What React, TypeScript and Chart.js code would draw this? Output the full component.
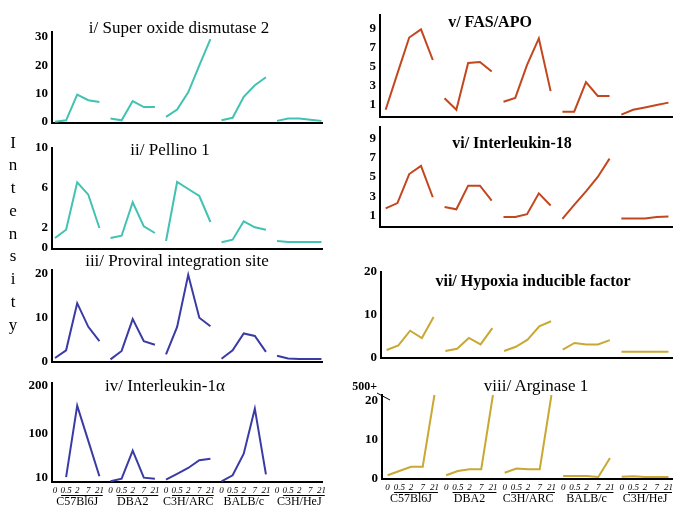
import React, { useEffect, useRef } from 'react';
import { Chart, registerables } from 'chart.js';
Chart.register(...registerables);

// ---------- data ----------
const strains = ['C57Bl6J', 'DBA2', 'C3H/ARC', 'BALB/c', 'C3H/HeJ'];
const days = ['0', '0.5', '2', '7', '21'];

// values per strain (5 strains x 5 days)
const sod2 = [0.1, 0.6, 9.7, 7.7, 7.1, 1.2, 0.6, 7.4, 5.3, 5.3, 1.8, 4.4, 10.5, 20, 29.3, 0.6, 1.5, 8.9, 13, 15.8, 0.4, 1.2, 1.2, 0.8, 0.4];
const pellino1 = [1.0, 1.83, 6.57, 5.33, 2.0, 1.0, 1.23, 4.57, 2.17, 1.5, 0.7, 6.6, 5.9, 5.2, 2.6, 0.57, 0.83, 2.67, 2.07, 1.83, 0.7, 0.6, 0.6, 0.6, 0.6];
const proviral = [0.9, 2.65, 13.3, 7.95, 4.7, 0.6, 2.5, 9.7, 4.7, 3.9, 1.75, 7.95, 19.7, 10, 8.1, 0.75, 2.65, 6.45, 5.9, 2.3, 1.4, 0.8, 0.7, 0.7, 0.7];
const il1a = [null, 10, 158, 85, 12, 1.4, 6.9, 65, 9, 6.9, 4.8, 17, 29, 45, 48, 1.4, 13.8, 58.6, 151.7, 15.9, null, null, null, null, null];
const fasApo = [0.5, 4.3, 8.05, 8.9, 5.7, 1.7, 0.5, 5.4, 5.5, 4.5, 1.35, 1.75, 5.2, 7.95, 2.45, 0.3, 0.3, 3.4, 1.95, 1.95, 0.0, 0.5, 0.75, 1.0, 1.25];
const il18 = [1.75, 2.3, 5.3, 6.15, 2.9, 1.9, 1.65, 4.1, 4.1, 2.55, 0.85, 0.85, 1.15, 3.3, 2.05, 0.65, 2.1, 3.5, 5.0, 6.9, 0.7, 0.7, 0.7, 0.85, 0.9];
const hif = [1.8, 2.85, 6.3, 4.6, 9.5, 1.55, 2.1, 4.6, 3.1, 6.9, 1.55, 2.55, 4.2, 7.3, 8.5, 1.9, 3.45, 3.1, 3.1, 4.1, 1.4, 1.4, 1.4, 1.4, 1.4];
// day-21 values of the first three strains run off the broken axis ("500+")
const arg1 = [0.85, 1.95, 3.05, 3.05, 21.5, 0.85, 1.95, 2.4, 2.4, 21.5, 1.5, 2.6, 2.4, 2.4, 21.5, 0.7, 0.7, 0.7, 0.4, 5.3, 0.45, 0.6, 0.4, 0.4, 0.4];

const sodTicks = [0, 10, 20, 30];
const pellinoTicks = [0, 2, 6, 10];
const proviralTicks = [0, 10, 20];
const il1aTicks = [10, 100, 200];
const oddTicks = [1, 3, 5, 7, 9];
const hifTicks = [0, 10, 20];
const argTicks = [0, 10, 20];
const yLabel = 'Intensity';

// ---------- layout / style ----------
const SERIF = '"Liberation Serif", "Times New Roman", Times, serif';
const TEAL = '#42c2b3';
const BLUE = '#3b3ba6';
const RUST = '#c2471f';
const GOLD = '#c9a833';

type Spec = {
  values: (number | null)[];
  color: string;
  area: [number, number, number, number];
  xMin: number; xMax: number; yMin: number; yMax: number;
  yTicks: number[];
  xLabels?: boolean;
  breakLabel?: string;
  title: string;
  titleX: number; titleY: number; titleBold?: boolean;
};

const LX = [-0.27, 24.05];
const RX = [-0.48, 24.3];

const panels: Spec[] = [
  { values: sod2, color: TEAL, area: [52, 32, 322, 123], xMin: LX[0], xMax: LX[1], yMin: -0.35, yMax: 31.8, yTicks: sodTicks, title: 'i/ Super oxide dismutase 2', titleX: 179, titleY: 27 },
  { values: pellino1, color: TEAL, area: [52, 148, 322, 249], xMin: LX[0], xMax: LX[1], yMin: -0.1, yMax: 10, yTicks: pellinoTicks, title: 'ii/ Pellino 1', titleX: 170, titleY: 149 },
  { values: proviral, color: BLUE, area: [52, 270, 322, 362], xMin: LX[0], xMax: LX[1], yMin: 0, yMax: 20.8, yTicks: proviralTicks, title: 'iii/ Proviral integration site', titleX: 177, titleY: 260 },
  { values: il1a, color: BLUE, area: [52, 383, 322, 482], xMin: LX[0], xMax: LX[1], yMin: 0, yMax: 204.8, yTicks: il1aTicks, xLabels: true, title: 'iv/ Interleukin-1\u03b1', titleX: 165, titleY: 385 },
  { values: fasApo, color: RUST, area: [380, 15, 672, 117], xMin: RX[0], xMax: RX[1], yMin: -0.25, yMax: 10.4, yTicks: oddTicks, title: 'v/ FAS/APO', titleX: 490, titleY: 22, titleBold: true },
  { values: il18, color: RUST, area: [380, 127, 672, 227], xMin: RX[0], xMax: RX[1], yMin: -0.18, yMax: 10.17, yTicks: oddTicks, title: 'vi/ Interleukin-18', titleX: 512, titleY: 143, titleBold: true },
  { values: hif, color: GOLD, area: [381, 272, 672, 358], xMin: RX[0], xMax: RX[1], yMin: -0.07, yMax: 20, yTicks: hifTicks, title: 'vii/ Hypoxia inducible factor', titleX: 533, titleY: 281, titleBold: true },
  { values: arg1, color: GOLD, area: [382, 395, 672, 479], xMin: RX[0], xMax: RX[1], yMin: -0.1, yMax: 21.5, yTicks: argTicks, xLabels: true, breakLabel: '500+', title: 'viii/ Arginase 1', titleX: 536, titleY: 385 },
];

const groupLabels = {
  id: 'groupLabels',
  afterDraw(chart: any, _args: any, opts: any) {
    const ctx = chart.ctx;
    const area = chart.chartArea;
    if (opts && opts.show) {
      const x = chart.scales.x;
      ctx.save();
      ctx.strokeStyle = '#000';
      ctx.lineWidth = 1;
      ctx.fillStyle = '#000';
      ctx.font = `12px ${SERIF}`;
      ctx.textAlign = 'center';
      ctx.textBaseline = 'middle';
      strains.forEach((name, g) => {
        const a = x.getPixelForValue(g * 5 + 0.55);
        const b = x.getPixelForValue(g * 5 + 4.3);
        ctx.beginPath();
        ctx.moveTo(a, area.bottom + 13.5);
        ctx.lineTo(b, area.bottom + 13.5);
        ctx.stroke();
        ctx.fillText(name, x.getPixelForValue(g * 5 + 2), area.bottom + 20);
      });
      ctx.restore();
    }
    if (opts && opts.breakLabel) {
      ctx.save();
      ctx.fillStyle = '#000';
      ctx.font = `bold 12px ${SERIF}`;
      ctx.textAlign = 'right';
      ctx.textBaseline = 'middle';
      ctx.fillText(opts.breakLabel, area.left - 5, area.top - 8);
      ctx.strokeStyle = '#000';
      ctx.lineWidth = 1;
      ctx.beginPath();
      ctx.moveTo(area.left - 5, area.top - 2);
      ctx.lineTo(area.left + 8, area.top + 5);
      ctx.stroke();
      ctx.restore();
    }
  },
};

const PAD_L = 45, PAD_T = 18, PAD_R = 12;

function Panel({ spec }: { spec: Spec }) {
  const ref = useRef<HTMLCanvasElement>(null);
  const [L, T, R, B] = spec.area;
  const padB = spec.xLabels ? 32 : 12;
  const w = R - L + PAD_L + PAD_R;
  const h = B - T + PAD_T + padB;
  useEffect(() => {
    if (!ref.current) return;
    const datasets = strains.map((s, g) => ({
      label: s,
      data: days.map((_, i) => ({ x: g * 5 + i, y: spec.values[g * 5 + i] })),
      borderColor: spec.color,
      backgroundColor: spec.color,
      borderWidth: 2,
      pointRadius: 0,
      tension: 0,
      spanGaps: false,
      fill: false,
    }));
    const xTickValues = strains.flatMap((_, g) => days.map((__, i) => g * 5 + i));
    const chart = new Chart(ref.current, {
      type: 'line',
      data: { datasets } as any,
      options: {
        responsive: false,
        animation: false,
        devicePixelRatio: 1,
        layout: { padding: { left: 0, top: PAD_T, right: PAD_R, bottom: spec.xLabels ? 0 : padB } },
        plugins: {
          legend: { display: false },
          tooltip: { enabled: false },
          title: { display: false },
          groupLabels: { show: !!spec.xLabels, breakLabel: spec.breakLabel },
        } as any,
        scales: {
          x: {
            type: 'linear',
            min: spec.xMin,
            max: spec.xMax,
            grid: { display: false, drawTicks: false },
            border: { display: true, color: '#000', width: 2 },
            afterBuildTicks: (s: any) => { s.ticks = xTickValues.map((v) => ({ value: v })); },
            afterFit: (s: any) => { s.height = spec.xLabels ? padB : 0; },
            ticks: {
              display: !!spec.xLabels,
              autoSkip: false,
              maxRotation: 0,
              minRotation: 0,
              padding: 3,
              color: '#000',
              font: { family: SERIF, size: 9, style: 'italic' },
              callback: (v: any) => days[Math.round(Number(v)) % 5],
            },
          },
          y: {
            type: 'linear',
            min: spec.yMin,
            max: spec.yMax,
            grid: { display: false, drawTicks: false },
            border: { display: true, color: '#000', width: 2 },
            afterBuildTicks: (s: any) => { s.ticks = spec.yTicks.map((v) => ({ value: v })); },
            afterFit: (s: any) => { s.width = PAD_L; },
            ticks: {
              padding: 4,
              color: '#000',
              font: { family: SERIF, size: 13, weight: 'bold' },
              callback: (v: any) => String(v),
            },
          },
        },
      } as any,
      plugins: [groupLabels as any],
    });
    return () => chart.destroy();
  }, []);
  return (
    <canvas
      ref={ref}
      width={w}
      height={h}
      style={{ position: 'absolute', left: L - PAD_L, top: T - PAD_T, width: w, height: h }}
    />
  );
}

export default function App() {
  return (
    <div style={{ position: 'absolute', left: 0, top: 0, width: 685, height: 513, background: '#fff', overflow: 'hidden', fontFamily: SERIF }}>
      {panels.map((p, i) => (
        <Panel key={i} spec={p} />
      ))}
      {panels.map((p, i) => (
        <div
          key={'t' + i}
          style={{
            position: 'absolute',
            left: p.titleX,
            top: p.titleY,
            transform: 'translate(-50%, -50%)',
            whiteSpace: 'nowrap',
            fontSize: p.titleBold ? 16 : 17,
            fontWeight: p.titleBold ? 'bold' : 'normal',
            lineHeight: 1,
            color: '#000',
          }}
        >
          {p.title}
        </div>
      ))}
      <div style={{ position: 'absolute', left: 4, top: 131.5, width: 18, textAlign: 'center', fontSize: 17, lineHeight: '22.75px', color: '#000' }}>
        {yLabel.split('').map((c, i) => (
          <div key={i}>{c}</div>
        ))}
      </div>
    </div>
  );
}
